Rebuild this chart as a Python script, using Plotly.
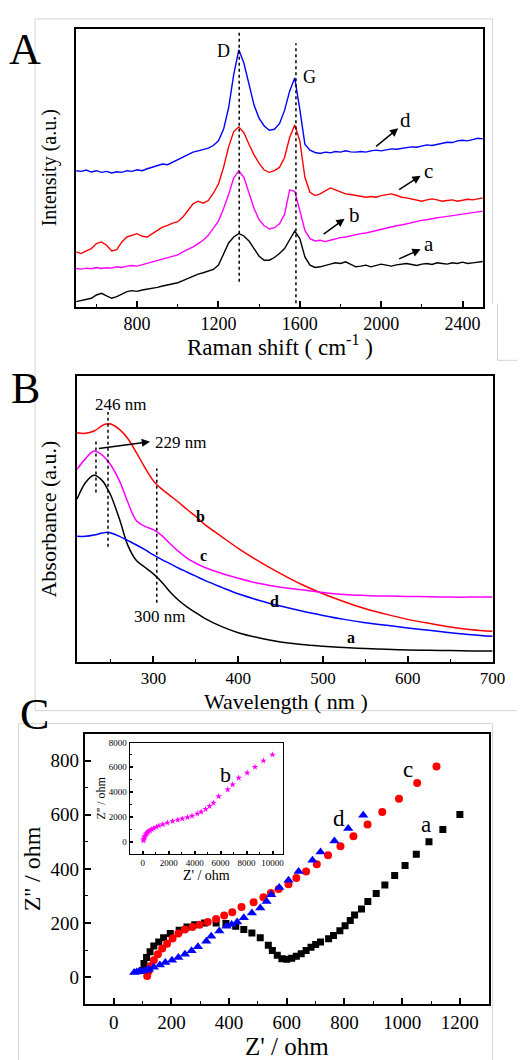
import plotly.graph_objects as go

# ---------------- Panel A: Raman ----------------
raman_x = [500, 525, 550, 575, 600, 625, 650, 675, 700, 725, 750, 775, 800, 825, 850, 875, 900, 925, 950, 975,
           1000, 1025, 1050, 1075, 1100, 1125, 1150, 1175, 1200, 1225, 1250, 1275, 1300, 1325, 1350, 1375, 1400,
           1425, 1450, 1475, 1500, 1525, 1550, 1575, 1600, 1625, 1650, 1675, 1700, 1725, 1750, 1775, 1800, 1825,
           1850, 1875, 1900, 1925, 1950, 1975, 2000, 2025, 2050, 2075, 2100, 2125, 2150, 2175, 2200, 2225, 2250,
           2275, 2300, 2325, 2350, 2375, 2400, 2425, 2450, 2475, 2500]
raman_a = [15, 18, 20, 25, 35, 40, 32, 25, 30, 38, 45, 48, 46, 50, 52, 55, 58, 62, 65, 70,
           72, 78, 85, 92, 98, 102, 108, 112, 125, 158, 192, 210, 220, 213, 198, 175, 152,
           140, 140, 148, 160, 175, 200, 228, 205, 150, 125, 118, 120, 125, 128, 132, 130, 135,
           128, 120, 122, 125, 120, 124, 128, 125, 122, 126, 128, 130, 127, 124, 128, 130, 127,
           132, 130, 128, 132, 130, 134, 130, 132, 135, 136]
raman_b = [115, 113, 116, 114, 118, 115, 117, 116, 120, 118, 122, 124, 122, 126, 130, 135, 138, 142, 148, 150,
           156, 165, 172, 180, 190, 200, 215, 235, 258, 295, 338, 388, 410, 390, 342, 296, 262,
           244, 234, 238, 250, 278, 352, 348, 290, 230, 205, 198, 200, 196, 200, 205, 208, 210,
           214, 218, 220, 222, 226, 230, 234, 236, 240, 244, 246, 250, 254, 258, 260, 262, 266,
           268, 270, 272, 276, 278, 280, 282, 284, 286, 288]
raman_c = [165, 160, 168, 175, 190, 195, 185, 168, 172, 195, 210, 215, 220, 212, 210, 220, 230, 240, 245, 252,
           256, 270, 290, 310, 318, 312, 320, 342, 370, 420, 482, 528, 542, 525, 490, 458, 432,
           412, 405, 410, 420, 450, 510, 548, 500, 390, 345, 335, 340, 348, 358, 352, 345, 340,
           338, 335, 333, 330, 332, 330, 335, 338, 340, 336, 330, 328, 325, 322, 318, 322, 325,
           322, 318, 320, 322, 318, 320, 324, 322, 326, 328]
raman_d = [410, 408, 412, 406, 410, 405, 408, 403, 407, 405, 410, 408, 413, 410, 416, 420, 424, 430, 428, 436,
           442, 452, 460, 466, 470, 474, 478, 486, 500, 535, 600, 700, 775, 735, 670, 608, 568,
           545, 532, 535, 552, 592, 650, 690, 595, 490, 472, 465, 462, 466, 464, 468, 466, 470,
           467, 466, 468, 466, 470, 472, 470, 474, 476, 475, 478, 480, 482, 481, 485, 488, 486,
           490, 494, 496, 495, 500, 502, 500, 504, 508, 506]

# ---------------- Panel B: UV-vis ----------------
uv_x = [210, 220, 230, 240, 246, 250, 260, 270, 280, 290, 300, 310, 320, 330, 340, 350, 360, 380, 400,
        425, 450, 475, 500, 525, 550, 575, 600, 625, 650, 675, 700]
uv_a = [490, 540, 562, 545, 520, 500, 430, 350, 305, 285, 265, 240, 210, 185, 165, 148, 132, 107, 88,
        72, 60, 52, 47, 43, 40, 38, 36, 35, 34, 33, 33]
uv_b = [690, 688, 695, 712, 717, 716, 700, 672, 630, 585, 545, 520, 500, 480, 458, 438, 415, 378, 342,
        302, 266, 233, 205, 181, 160, 143, 128, 116, 105, 97, 92]
uv_c = [580, 612, 635, 622, 605, 592, 545, 480, 425, 408, 398, 380, 355, 332, 312, 297, 285, 267, 252,
        236, 225, 217, 209, 203, 200, 198, 197, 196, 195, 195, 195]
uv_d = [378, 378, 382, 388, 390, 388, 378, 365, 352, 338, 322, 308, 295, 282, 270, 258, 246, 225, 205,
        185, 168, 153, 140, 128, 118, 110, 102, 95, 88, 82, 77]

# ---------------- Panel C: Nyquist ----------------
eis_a_x = [100, 105, 114, 126, 139, 156, 173, 196, 227, 254, 281, 315, 355, 389, 423, 451, 479, 508, 536, 550,
           567, 583, 600, 617, 633, 650, 667, 684, 700, 717, 745, 762, 784, 802, 820, 835, 859, 881, 910, 940,
           974, 1010, 1049, 1093, 1141, 1200]
eis_a_y = [25, 51, 73, 94, 115, 130, 146, 161, 173, 185, 194, 200, 200, 198, 188, 176, 163, 146, 118, 99,
           81, 68, 66, 70, 77, 87, 99, 111, 121, 130, 142, 154, 172, 190, 209, 230, 252, 280, 309, 341,
           376, 413, 454, 500, 546, 601]
eis_c_x = [116, 121, 128, 139, 153, 168, 185, 204, 224, 247, 273, 298, 326, 355, 383, 411, 443, 485, 519, 545,
           572, 606, 633, 667, 704, 743, 786, 831, 880, 931, 989, 1052, 1119]
eis_c_y = [4, 22, 41, 63, 85, 106, 124, 143, 161, 176, 185, 194, 204, 215, 228, 240, 259, 277, 295, 311,
           326, 343, 366, 390, 417, 450, 484, 521, 564, 610, 659, 717, 778]
eis_d_x = [71, 80, 88, 97, 105, 114, 122, 139, 160, 179, 202, 224, 247, 270, 292, 321, 338, 366, 391, 409,
           428, 451, 479, 508, 530, 546, 574, 606, 641, 689, 717, 765, 813, 865]
eis_d_y = [17, 19, 21, 22, 24, 26, 29, 37, 45, 54, 63, 73, 85, 98, 112, 133, 151, 171, 188, 195,
           204, 220, 237, 256, 280, 305, 331, 358, 390, 432, 462, 503, 549, 598]
eis_b_x = [50, 80, 120, 170, 230, 300, 380, 470, 570, 700, 850, 1050, 1250, 1550, 1900, 2300, 2700, 3050,
           3450, 3800, 4200, 4500, 4850, 5150, 5450, 5850, 6550, 6930, 7400, 8050, 8650, 9300, 10000]
eis_b_y = [80, 200, 330, 450, 560, 660, 750, 830, 900, 990, 1080, 1180, 1280, 1390, 1520, 1650, 1760, 1850,
           1950, 2080, 2250, 2400, 2620, 2860, 3130, 3650, 4200, 4600, 5150, 5550, 6020, 6530, 7010]

BLACK, RED, MAG, BLUE = "#000000", "#ff0000", "#ff00ff", "#0000ff"
FONT = "Liberation Serif, Times New Roman, serif"
W, H = 530, 1060


def px(x):
    return x / W


def py(y):
    return 1 - y / H


fig = go.Figure()

for ys, col in [(raman_a, BLACK), (raman_b, MAG), (raman_c, RED), (raman_d, BLUE)]:
    fig.add_trace(go.Scatter(x=raman_x, y=ys, mode="lines", line=dict(color=col, width=1.4),
                             xaxis="x", yaxis="y", showlegend=False))
for ys, col in [(uv_a, BLACK), (uv_b, RED), (uv_c, MAG), (uv_d, BLUE)]:
    fig.add_trace(go.Scatter(x=uv_x, y=ys, mode="lines", line=dict(color=col, width=1.5, shape="spline"),
                             xaxis="x2", yaxis="y2", showlegend=False))
fig.add_trace(go.Scatter(x=eis_a_x, y=eis_a_y, mode="markers", xaxis="x3", yaxis="y3", showlegend=False,
                         marker=dict(symbol="square", size=7, color=BLACK)))
fig.add_trace(go.Scatter(x=eis_c_x, y=eis_c_y, mode="markers", xaxis="x3", yaxis="y3", showlegend=False,
                         marker=dict(symbol="circle", size=8, color=RED)))
fig.add_trace(go.Scatter(x=eis_d_x, y=eis_d_y, mode="markers", xaxis="x3", yaxis="y3", showlegend=False,
                         marker=dict(symbol="triangle-up", size=9, color=BLUE)))
fig.add_trace(go.Scatter(x=eis_b_x, y=eis_b_y, mode="markers", xaxis="x4", yaxis="y4", showlegend=False,
                         marker=dict(symbol="star", size=5, color=MAG)))


def xax(domain, rng, dtick, minor, anchor, title, tsize, fsize, standoff):
    d = dict(domain=domain, range=rng, anchor=anchor, dtick=dtick, tick0=0,
             ticks="inside", ticklen=6, tickwidth=1.5, tickcolor="black",
             minor=dict(dtick=minor, ticks="inside", ticklen=3, tickwidth=1.2, tickcolor="black"),
             showline=True, linewidth=2, linecolor="black", mirror=True,
             showgrid=False, zeroline=False, tickformat="d",
             tickfont=dict(family=FONT, size=tsize, color="black"))
    if title:
        d["title"] = dict(text=title, font=dict(family=FONT, size=fsize, color="black"), standoff=standoff)
    return d


layout = dict(width=W, height=H, margin=dict(l=0, r=0, t=0, b=0), autosize=False,
              paper_bgcolor="white", plot_bgcolor="white", showlegend=False,
              font=dict(family=FONT, color="black"))

layout["xaxis"] = xax([px(78), px(495)], [500, 2500], 400, 200, "y", None, 18, 23, 0)
layout["yaxis"] = dict(domain=[py(303), py(24)], range=[0, 838], anchor="x", showticklabels=False,
                       ticks="", showline=True, linewidth=2, linecolor="black", mirror=True,
                       showgrid=False, zeroline=False,
                       title=dict(text="Intensity (a.u.)", font=dict(family=FONT, size=20, color="black"),
                                  standoff=12))
layout["xaxis2"] = xax([px(79), px(505)], [210, 700], 100, 50, "y2", None, 17, 24, 0)
layout["yaxis2"] = dict(domain=[py(660), py(373)], range=[0, 860], anchor="x2", showticklabels=False,
                        ticks="", showline=True, linewidth=2, linecolor="black", mirror=True,
                        showgrid=False, zeroline=False,
                        title=dict(text="Absorbance (a.u.)", font=dict(family=FONT, size=22, color="black"),
                                   standoff=12))
layout["xaxis3"] = xax([px(87), px(501)], [-100, 1300], 200, 100, "y3",
                       "Z' / ohm", 19, 25, 7)
layout["yaxis3"] = xax([py(1004), py(732)], [-100, 900], 200, 100, "x3", "Z'' / ohm", 19, 24, 3)
x4 = xax([px(133), px(290)], [-1000, 10800], 2000, 1000, "y4", "Z' / ohm", 9, 14, 0)
x4.update(linewidth=1.2, ticklen=3)
x4["minor"]["ticklen"] = 2
layout["xaxis4"] = x4
y4 = xax([py(853), py(741)], [-1000, 8000], 2000, 1000, "x4", "Z'' / ohm", 9, 12, 0)
y4.update(linewidth=1.2, ticklen=3)
y4["minor"]["ticklen"] = 2
layout["yaxis4"] = y4

fig.update_layout(**layout)

shapes = []
for x0, ya, yb in [(1302, 75, 835), (1581, 10, 795)]:
    shapes.append(dict(type="line", xref="x", yref="y", x0=x0, x1=x0, y0=ya, y1=yb,
                       line=dict(color="black", width=1.5, dash="dot")))
for x0, ya, yb in [(232.3, 510, 672), (246.5, 347, 752), (304, 178, 582)]:
    shapes.append(dict(type="line", xref="x2", yref="y2", x0=x0, x1=x0, y0=ya, y1=yb,
                       line=dict(color="black", width=1.5, dash="dot")))
GR = "#d4d4d4"
for (xa, ya_, xb, yb_) in [(36, 14, 36, 357), (36, 14, 505, 14), (505, 14, 505, 300),
                           (510, 300, 510, 357), (510, 357, 530, 357),
                           (36, 357, 36, 709), (36, 709, 530, 709),
                           (19, 722, 19, 1060), (19, 722, 505, 722), (505, 722, 505, 1060)]:
    shapes.append(dict(type="line", xref="paper", yref="paper", x0=px(xa), x1=px(xb), y0=py(ya_), y1=py(yb_),
                       line=dict(color=GR, width=1), layer="below"))
fig.update_layout(shapes=shapes)

ann = []


def label(text, x, y, xr, yr, size, bold=False, xanchor="center"):
    t = "<b>%s</b>" % text if bold else text
    ann.append(dict(text=t, x=x, y=y, xref=xr, yref=yr, showarrow=False, xanchor=xanchor, yanchor="middle",
                    font=dict(family=FONT, size=size, color="black")))


def arrow(x0, y0, x1, y1, xr, yr):
    ann.append(dict(text="", x=x1, y=y1, ax=x0, ay=y0, xref=xr, yref=yr, axref=xr, ayref=yr,
                    showarrow=True, arrowhead=2, arrowsize=1.1, arrowwidth=1.5, arrowcolor="black"))


label("A", px(26), py(45), "paper", "paper", 44)
label("B", px(26), py(385), "paper", "paper", 44)
label("C", px(35), py(713), "paper", "paper", 44)

# x-axis titles of panels A and B
label("Raman shift ( cm<sup>-1</sup> )", px(287), py(342), "paper", "paper", 23)
label("Wavelength ( nm )", px(293), py(700), "paper", "paper", 22)

label("D", 1227, 770, "x", "y", 18)
label("G", 1649, 692, "x", "y", 18)
label("d", 2118, 562, "x", "y", 21)
label("c", 2234, 410, "x", "y", 21)
label("b", 1871, 275, "x", "y", 21)
label("a", 2234, 190, "x", "y", 21)
arrow(1968, 480, 2084, 538, "x", "y")
arrow(2081, 350, 2194, 395, "x", "y")
arrow(1710, 215, 1820, 265, "x", "y")
arrow(2081, 142, 2194, 173, "x", "y")

label("246 nm", 261.8, 775, "x2", "y2", 17)
label("229 nm", 299, 660, "x2", "y2", 17, xanchor="left")
label("300 nm", 307, 138, "x2", "y2", 17)
arrow(234, 642, 296, 663, "x2", "y2")
label("b", 355.4, 437, "x2", "y2", 16, bold=True)
label("c", 358.5, 320, "x2", "y2", 16, bold=True)
label("d", 442.6, 182, "x2", "y2", 16, bold=True)
label("a", 532.5, 72, "x2", "y2", 16, bold=True)

label("c", 1020, 766, "x3", "y3", 23)
label("d", 782, 588, "x3", "y3", 23)
label("a", 1083, 564, "x3", "y3", 23)
label("b", 6400, 5430, "x4", "y4", 22)

fig.update_layout(annotations=ann)

fig.write_html("out.html", config={"displayModeBar": False},
               post_script="document.body.style.margin='0px';document.body.style.padding='0px';")
